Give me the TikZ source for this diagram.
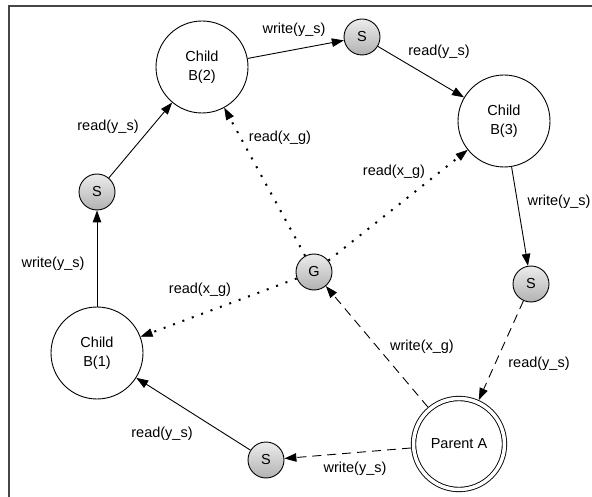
\documentclass[tikz,border=0pt]{standalone}
\usepackage{fontspec}
\setmainfont{Liberation Sans}
\usetikzlibrary{arrows.meta}
\definecolor{sTop}{RGB}{236,236,236}
\definecolor{sBot}{RGB}{178,178,178}
\definecolor{frameC}{RGB}{70,70,70}
\begin{document}
\begin{tikzpicture}[x=1pt,y=-1pt,
  every node/.style={font=\fontsize{14.5}{19}\selectfont},
  big/.style={circle, draw, fill=white, minimum size=92pt, inner sep=0pt, align=center, line width=0.9pt},
  small/.style={circle, draw, top color=sTop, bottom color=sBot, minimum size=36pt, inner sep=0pt, line width=0.9pt},
  parent/.style={circle, draw, fill=white, double, double distance=3.5pt, line width=0.9pt, minimum size=91pt, inner sep=0pt, outer sep=2.7pt},
  tipa/.style={-{Triangle[length=12pt,width=8.5pt]}},
  solidc/.style={tipa, line width=0.9pt},
  dashc/.style={tipa, line width=0.9pt, dash pattern=on 9pt off 6pt},
  dotc/.style={-{Triangle[length=12pt,width=8.5pt,line width=0.5pt]}, line width=2pt, dash pattern=on 2pt off 8pt},
  lbl/.style={inner sep=1pt}
]
\useasboundingbox (0,0) rectangle (592,497);
\fill[white] (0,0) rectangle (592,497);
\draw[frameC, line width=1.2pt] (9,497) -- (9,6) -- (592,6);

% nodes
\node[big] (B2) at (202,67) {Child\\B(2)};
\node[small] (ST) at (362,37) {S};
\node[big] (B3) at (504,121) {Child\\B(3)};
\node[small] (SL) at (97,192) {S};
\node[small] (G) at (314,272) {G};
\node[small] (SR) at (531,284) {S};
\node[big] (B1) at (97,353) {Child\\B(1)};
\node[small] (SB) at (266,460) {S};
\node[parent] (PA) at (459,444) {Parent A};

% connectors
\draw[solidc] (B2) -- (ST);
\draw[solidc] (ST) -- (B3);
\draw[solidc] (SL) -- (B2);
\draw[solidc] (B1) -- (SL);
\draw[solidc] (B3) -- (SR);
\draw[dashc] (SR) -- (PA);
\draw[dashc] (PA) -- (SB);
\draw[solidc] (SB) -- (B1);
\draw[dashc] (PA) -- (G);
\draw[dotc] (G) -- (B1);
\draw[dotc] (G) -- (B2);
\draw[dotc] (G) -- (B3);

% labels
\node[lbl] (l1) at (294,30) {write(y\_s)};
\node[lbl] (l2) at (439,52) {read(y\_s)};
\node[lbl] (l3) at (108,127) {read(y\_s)};
\node[lbl] (l4) at (53,264) {write(y\_s)};
\node[lbl] (l5) at (559,202) {write(y\_s)};
\node[lbl] (l6) at (539,364) {read(y\_s)};
\node[lbl] (l7) at (355,469) {write(y\_s)};
\node[lbl] (l8) at (162,434) {read(y\_s)};
\node[lbl] (l9) at (422,347) {write(x\_g)};
\node[lbl] (l10) at (200,290) {read(x\_g)};
\node[lbl] (l11) at (280,138) {read(x\_g)};
\node[lbl] (l12) at (394,172) {read(x\_g)};
\end{tikzpicture}
\end{document}
